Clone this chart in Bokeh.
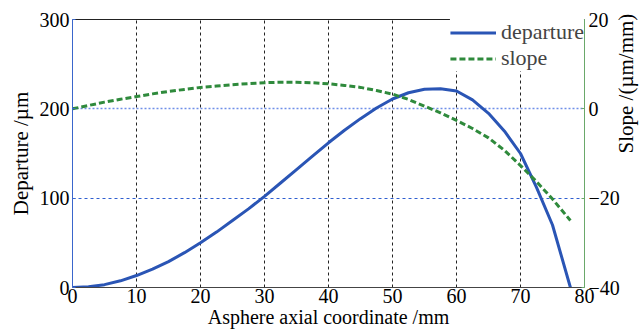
import math
from bokeh.plotting import figure
from bokeh.models import LinearAxis, Range1d, Legend, LegendItem, FixedTicker, Grid
from bokeh.embed import file_html
from bokeh.resources import INLINE

# ---- data ----
coord = [0, 2.5, 5, 7.5, 10, 12.5, 15, 17.5, 20, 22.5, 25, 27.5, 30, 32.5, 35, 37.5,
         40, 42.5, 45, 47.5, 50, 52.5, 55, 57.5, 60, 62.5, 65, 67.5, 70, 72.5, 75, 77.8]
departure = [0, 0.8, 3.2, 7.5, 13.4, 20.5, 29, 39, 50, 62, 75, 88, 102, 117, 132, 147,
             162, 176, 189, 201, 211, 218, 222, 222.5, 220, 210, 195, 175, 150, 112, 70, 0]
slope = [0, 0.75, 1.5, 2.15, 2.75, 3.35, 3.9, 4.35, 4.8, 5.1, 5.4, 5.65, 5.85, 5.95, 5.95, 5.85,
         5.6, 5.25, 4.8, 4.1, 3.3, 2.1, 0.6, -0.9, -2.6, -4.4, -6.5, -9.3, -12.7, -16.3, -20.2, -25]

x_ticks = [0, 10, 20, 30, 40, 50, 60, 70, 80]
x_grid_ticks = [10, 20, 30, 40, 50, 60, 70]
left_ticks = [0, 100, 200, 300]
right_ticks = [-40, -20, 0, 20]
right_tick_labels = {-40: "\u221240", -20: "\u221220", 0: "0", 20: "20"}

FONT = "Liberation Serif"
TICK_FS = "20px"
XLABEL_FS = "20px"
YLABEL_FS = "21px"
LEGEND_FS = "22px"
BLUE = "#2a55b5"
GREEN = "#2f8a3c"
AXIS_BLUE = "#3a66cc"
AXIS_GREEN = "#6aa86a"

p = figure(frame_width=512, frame_height=268,
           x_range=Range1d(0, 80), y_range=Range1d(0, 300),
           output_backend="svg", toolbar_location=None,
           min_border_left=72, min_border_right=5, min_border_top=19, min_border_bottom=2,
           background_fill_color="white", border_fill_color="white")
p.outline_line_color = None
p.extra_y_ranges = {"slope": Range1d(-40, 20)}

# grids
p.xgrid.ticker = FixedTicker(ticks=x_grid_ticks)
p.xgrid.grid_line_color = "#222222"
p.xgrid.grid_line_dash = "3 3"
p.xgrid.grid_line_width = 1
p.ygrid.ticker = FixedTicker(ticks=[100])
p.ygrid.grid_line_color = "#2f5fd0"
p.ygrid.grid_line_dash = "3 3"
p.ygrid.grid_line_alpha = 1
g2 = Grid(dimension=1, ticker=FixedTicker(ticks=[0]), y_range_name="slope",
          grid_line_color="#6f8fe8", grid_line_dash="2 2", grid_line_width=1.3,
          grid_line_alpha=1)
p.add_layout(g2)

# bottom axis
xa = p.xaxis[0]
xa.ticker = FixedTicker(ticks=x_ticks)
xa.axis_label = "Asphere axial coordinate /mm"
xa.axis_line_color = "#444444"
xa.major_tick_in = 0
xa.major_tick_out = 0
xa.minor_tick_line_color = None
xa.major_label_standoff = 1
xa.axis_label_standoff = 0

# left axis
ya = p.yaxis[0]
ya.ticker = FixedTicker(ticks=left_ticks)
ya.axis_label = "Departure /\u00b5m"
ya.axis_line_color = AXIS_BLUE
ya.major_tick_in = 3
ya.major_tick_out = 0
ya.major_tick_line_color = AXIS_BLUE
ya.minor_tick_line_color = None
ya.major_label_standoff = 3
ya.axis_label_standoff = 4

# right axis
ra = LinearAxis(y_range_name="slope", ticker=FixedTicker(ticks=right_ticks),
                axis_label="Slope /(\u00b5m/mm)",
                major_label_overrides=right_tick_labels)
ra.axis_line_color = AXIS_GREEN
ra.major_tick_in = 3
ra.major_tick_out = 0
ra.major_tick_line_color = AXIS_GREEN
ra.minor_tick_line_color = None
ra.major_label_standoff = 4
ra.axis_label_standoff = 3
ra.axis_label_orientation = math.pi / 2
p.add_layout(ra, "right")

# top border as an unlabeled axis
ta = LinearAxis(axis_line_color="#222222", major_tick_line_color=None,
                minor_tick_line_color=None, major_label_text_font_size="0px",
                major_label_standoff=0, axis_label=None)
ta.ticker = FixedTicker(ticks=[])
p.add_layout(ta, "above")

for ax, lfs in [(xa, XLABEL_FS), (ya, YLABEL_FS), (ra, YLABEL_FS)]:
    ax.major_label_text_font = FONT
    ax.major_label_text_font_size = TICK_FS
    ax.major_label_text_color = "black"
    ax.axis_label_text_font = FONT
    ax.axis_label_text_font_size = lfs
    ax.axis_label_text_font_style = "normal"
    ax.axis_label_text_color = "black"

r_dep = p.line(coord, departure, line_color=BLUE, line_width=3)
r_slope = p.line(coord, slope, y_range_name="slope", line_color=GREEN,
                 line_width=3, line_dash="6 3")

legend = Legend(items=[LegendItem(label="departure", renderers=[r_dep]),
                       LegendItem(label="slope", renderers=[r_slope])],
                location="top_right")
legend.border_line_color = None
legend.background_fill_color = "white"
legend.background_fill_alpha = 1
legend.label_text_font = FONT
legend.label_text_font_size = LEGEND_FS
legend.glyph_width = 46
legend.glyph_height = 21
legend.label_height = 21
legend.spacing = 0
legend.padding = 7
legend.margin = 0
legend.label_standoff = 5
p.add_layout(legend, "center")

open("out.html", "w").write(file_html(p, INLINE))
